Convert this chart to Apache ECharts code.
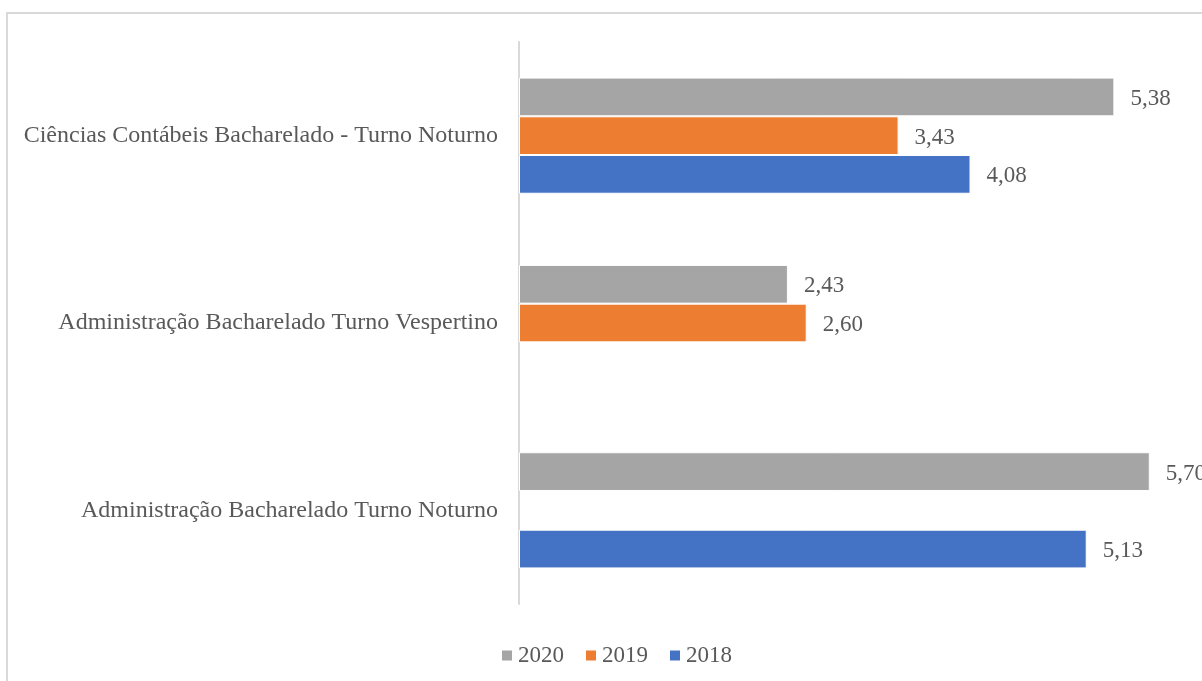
<!DOCTYPE html>
<html>
<head>
<meta charset="utf-8">
<script src="https://cdn.jsdelivr.net/npm/echarts@6/dist/echarts.min.js"></script>
<style>
  html, body { margin: 0; padding: 0; background: #fff; }
  .frame {
    position: absolute; left: 6px; top: 12px; right: -4px; bottom: -4px;
    border-left: 2px solid #d9d9d9; border-top: 2px solid #d9d9d9;
  }
  #chart { position: absolute; left: 0; top: 0; width: 1202px; height: 681px; }
</style>
</head>
<body>
<div class="frame"></div>
<div id="chart"></div>
<script>
// categories, bottom to top (ECharts draws the first category at the bottom)
const courses = [
  'Administração Bacharelado Turno Noturno',
  'Administração Bacharelado Turno Vespertino',
  'Ciências Contábeis Bacharelado - Turno Noturno'
];
const years = ['2020', '2019', '2018'];
const values2020 = [5.70, 2.43, 5.38];
const values2019 = [null, 2.60, 3.43];
const values2018 = [5.13, null, 4.08];
const colors = ['#a5a5a5', '#ed7d31', '#4472c4'];

const font = 'Liberation Serif';

const chart = echarts.init(document.getElementById('chart'));

function makeSeries(name, data, color) {
  return {
    name: name,
    type: 'bar',
    data: data,
    barGap: 0,
    barCategoryGap: '38%',
    itemStyle: { color: color, borderColor: '#fff', borderWidth: 1 },
    label: {
      show: true,
      position: 'right',
      distance: 16,
      color: '#595959',
      fontFamily: font,
      fontSize: 23,
      offset: [0, 2],
      formatter: p => p.value == null ? '' : p.value.toFixed(2).replace('.', ',')
    }
  };
}

const option = {
  animation: false,
  backgroundColor: 'transparent',
  grid: { left: 519, right: 19, top: 42, bottom: 77 },
  legend: {
    bottom: 9,
    left: 495,
    data: years,
    itemWidth: 12,
    itemHeight: 12,
    itemGap: 20,
    icon: 'rect',
    textStyle: { color: '#595959', fontFamily: font, fontSize: 23 }
  },
  xAxis: {
    type: 'value',
    min: 0,
    max: 6,
    show: false
  },
  yAxis: {
    type: 'category',
    data: courses,
    axisLine: { show: true, lineStyle: { color: '#d9d9d9', width: 2 } },
    axisTick: { show: false },
    axisLabel: { color: '#595959', fontFamily: font, fontSize: 24, margin: 21 }
  },
  series: [
    makeSeries(years[0], values2020, colors[0]),
    makeSeries(years[1], values2019, colors[1]),
    makeSeries(years[2], values2018, colors[2])
  ]
};

chart.setOption(option);
</script>
</body>
</html>
